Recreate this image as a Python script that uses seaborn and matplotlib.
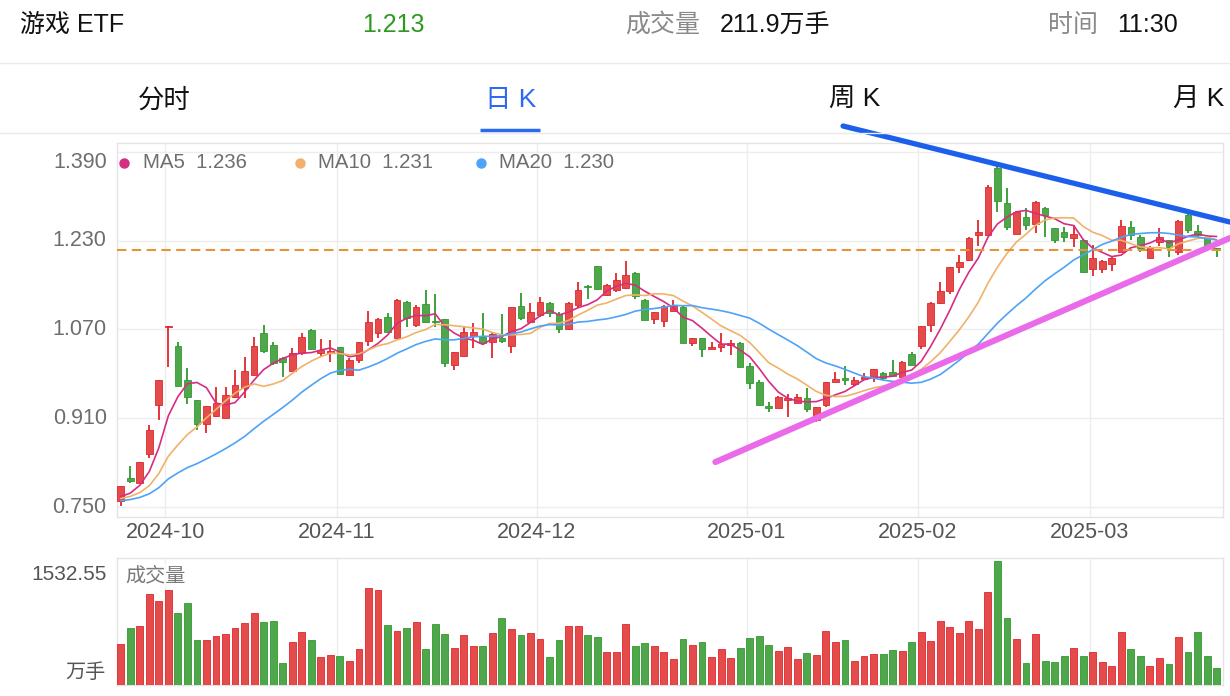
import numpy as np
import pandas as pd
import matplotlib
matplotlib.use("Agg")
import matplotlib.pyplot as plt
from matplotlib.lines import Line2D
import seaborn as sns

sns.set_theme(style="white")
plt.rcParams['font.family'] = ['Liberation Sans', 'Noto Sans CJK SC', 'DejaVu Sans']

# ---------------- data ----------------
opens = [0.761, 0.802, 0.794, 0.846, 0.934, 1.075, 1.040, 0.979, 0.943, 0.900,
         0.914, 0.910, 0.949, 0.964, 0.988, 1.064, 1.042, 1.019, 0.995, 1.028,
         1.069, 1.027, 1.027, 1.038, 0.988, 1.014, 1.050, 1.063, 1.092, 1.054,
         1.119, 1.078, 1.116, 1.085, 1.088, 1.006, 1.022, 1.058, 1.057, 1.048,
         1.055, 1.040, 1.112, 1.084, 1.096, 1.118, 1.098, 1.070, 1.114, 1.149,
         1.184, 1.132, 1.141, 1.144, 1.171, 1.123, 1.088, 1.085, 1.104, 1.111,
         1.045, 1.054, 1.034, 1.039, 1.042, 1.045, 1.004, 0.976, 0.932, 0.928,
         0.943, 0.937, 0.946, 0.907, 0.934, 0.976, 0.983, 0.971, 0.980, 0.984,
         0.992, 0.994, 0.985, 1.026, 1.040, 1.078, 1.117, 1.140, 1.182, 1.195,
         1.240, 1.240, 1.360, 1.298, 1.242, 1.272, 1.260, 1.288, 1.252, 1.245,
         1.234, 1.232, 1.178, 1.178, 1.188, 1.210, 1.255, 1.237, 1.198, 1.228,
         1.231, 1.210, 1.276, 1.248, 1.236, 1.216]
highs = [0.787, 0.823, 0.832, 0.898, 0.979, 1.076, 1.047, 1.000, 0.943, 0.932,
         0.967, 0.966, 0.996, 1.020, 1.057, 1.078, 1.048, 1.021, 1.036, 1.063,
         1.070, 1.052, 1.051, 1.039, 1.018, 1.048, 1.104, 1.090, 1.099, 1.124,
         1.122, 1.114, 1.141, 1.134, 1.088, 1.029, 1.075, 1.081, 1.100, 1.063,
         1.098, 1.111, 1.136, 1.117, 1.128, 1.119, 1.102, 1.119, 1.155, 1.150,
         1.185, 1.152, 1.171, 1.194, 1.173, 1.124, 1.102, 1.114, 1.123, 1.112,
         1.055, 1.055, 1.048, 1.064, 1.051, 1.048, 1.010, 0.979, 0.940, 0.950,
         0.954, 0.954, 0.964, 0.931, 0.976, 0.994, 1.004, 0.985, 0.991, 0.999,
         0.993, 1.015, 1.013, 1.030, 1.077, 1.119, 1.156, 1.183, 1.204, 1.236,
         1.268, 1.330, 1.372, 1.324, 1.283, 1.288, 1.302, 1.291, 1.253, 1.255,
         1.258, 1.233, 1.222, 1.195, 1.200, 1.267, 1.266, 1.240, 1.220, 1.252,
         1.232, 1.267, 1.285, 1.258, 1.240, 1.217]
lows = [0.751, 0.794, 0.794, 0.838, 0.907, 1.002, 0.968, 0.936, 0.889, 0.883,
        0.912, 0.910, 0.946, 0.946, 0.988, 1.027, 1.006, 0.985, 0.995, 1.024,
        1.033, 1.021, 1.012, 0.990, 0.987, 1.009, 1.040, 1.054, 1.065, 1.054,
        1.075, 1.075, 1.081, 1.075, 1.003, 0.996, 1.021, 1.036, 1.042, 1.018,
        1.046, 1.027, 1.087, 1.081, 1.093, 1.092, 1.064, 1.069, 1.108, 1.124,
        1.142, 1.131, 1.138, 1.142, 1.124, 1.087, 1.079, 1.074, 1.104, 1.045,
        1.040, 1.021, 1.034, 1.030, 1.024, 1.002, 0.962, 0.933, 0.922, 0.928,
        0.913, 0.937, 0.922, 0.904, 0.931, 0.976, 0.970, 0.968, 0.978, 0.976,
        0.978, 0.984, 0.984, 1.006, 1.034, 1.066, 1.116, 1.134, 1.172, 1.194,
        1.220, 1.238, 1.282, 1.250, 1.242, 1.249, 1.244, 1.237, 1.225, 1.228,
        1.218, 1.171, 1.166, 1.171, 1.175, 1.209, 1.231, 1.210, 1.198, 1.220,
        1.200, 1.204, 1.243, 1.237, 1.218, 1.201]
closes = [0.787, 0.796, 0.832, 0.889, 0.979, 1.076, 0.968, 0.949, 0.900, 0.932,
          0.937, 0.952, 0.970, 0.995, 1.040, 1.031, 1.010, 1.012, 1.028, 1.056,
          1.035, 1.033, 1.031, 0.990, 1.015, 1.048, 1.083, 1.088, 1.065, 1.123,
          1.090, 1.111, 1.084, 1.083, 1.010, 1.029, 1.066, 1.065, 1.045, 1.061,
          1.049, 1.111, 1.090, 1.102, 1.119, 1.099, 1.070, 1.117, 1.141, 1.146,
          1.142, 1.150, 1.159, 1.168, 1.130, 1.087, 1.102, 1.113, 1.113, 1.046,
          1.055, 1.034, 1.039, 1.044, 1.045, 1.002, 0.974, 0.933, 0.928, 0.949,
          0.946, 0.948, 0.926, 0.931, 0.976, 0.980, 0.978, 0.978, 0.984, 0.998,
          0.982, 0.986, 1.012, 1.006, 1.076, 1.118, 1.140, 1.182, 1.192, 1.234,
          1.246, 1.326, 1.302, 1.254, 1.282, 1.258, 1.300, 1.276, 1.232, 1.236,
          1.242, 1.174, 1.198, 1.194, 1.198, 1.256, 1.240, 1.216, 1.219, 1.237,
          1.218, 1.266, 1.249, 1.240, 1.219, 1.213]
volumes = [504, 705, 734, 1119, 1041, 1169, 890, 1017, 562, 554,
           603, 636, 701, 763, 890, 783, 795, 275, 537, 656,
           562, 340, 369, 353, 299, 451, 1205, 1177, 738, 668,
           701, 783, 439, 750, 627, 455, 623, 476, 488, 644,
           824, 693, 623, 644, 570, 349, 562, 734, 726, 615,
           590, 410, 410, 754, 480, 517, 488, 405, 322, 572,
           497, 530, 342, 443, 334, 455, 585, 601, 497, 422,
           472, 326, 401, 376, 664, 526, 551, 301, 363, 388,
           384, 438, 422, 526, 651, 547, 789, 722, 647, 789,
           689, 1153, 1532.55, 823, 564, 271, 635, 296, 280, 363,
           455, 355, 409, 280, 234, 651, 443, 363, 238, 330,
           263, 593, 405, 651, 363, 211.9]
# closes before the first visible candle (estimated from where the MA lines start)
prior_closes = [0.752, 0.755, 0.758, 0.760, 0.757, 0.754, 0.756, 0.759, 0.761, 0.758,
                0.760, 0.762, 0.764, 0.761, 0.763, 0.765, 0.762, 0.764, 0.766]

month_labels = ["2024-10", "2024-11", "2024-12", "2025-01", "2025-02", "2025-03"]
month_start_idx = [5, 23, 44, 66, 84, 102]
price_ticks = [0.750, 0.910, 1.070, 1.230, 1.390]
last_price = 1.213
ma_windows = [5, 10, 20]
ma_names = ["MA5", "MA10", "MA20"]
ma_legend_values = ["1.236", "1.231", "1.230"]
upper_trend_x = [75.8, 116.4]
upper_trend_y = [1.4365, 1.2635]
lower_trend_x = [62.4, 116.4]
lower_trend_y = [0.831, 1.2347]
vol_top_label = "1532.55"

# ---------------- styles ----------------
RED = "#E44B4B"
RED_EDGE = "#E0262B"
GREEN = "#4FA64B"
GREEN_EDGE = "#2F9A2F"
MA_COLORS = ["#D62D82", "#F0B26A", "#4DA3F7"]
GRID = "#EDEDED"
BLUE = "#2A6AF0"

W, H = 1230, 696
fig = plt.figure(figsize=(W / 100, H / 100), dpi=100)
fig.patch.set_facecolor("white")


def rect(l, t, r, b):
    return [l / W, 1 - b / H, (r - l) / W, (b - t) / H]


ax = fig.add_axes(rect(116.7, 143, 1223, 517))
axv = fig.add_axes(rect(116.7, 558, 1223, 685))

n = len(closes)
df = pd.DataFrame({"i": np.arange(n), "o": opens, "h": highs, "l": lows,
                   "c": closes, "v": volumes})
df["dir"] = np.where(df["c"] >= df["o"], "up", "down")
up = df["dir"] == "up"

allc = pd.Series(prior_closes + closes)
for w, name in zip(ma_windows, ma_names):
    df[name] = allc.rolling(w).mean().values[len(prior_closes):]

XMIN, XMAX = -0.42, 115.67
for a in (ax, axv):
    a.set_xlim(XMIN, XMAX)
    a.set_facecolor("white")
    for s in a.spines.values():
        s.set_color("#E4E4E4")
        s.set_linewidth(1)
    for m in month_start_idx:
        a.axvline(m - 0.33, color=GRID, lw=1, zorder=0)

ax.set_ylim(0.732, 1.4059)
for v in price_ticks:
    ax.axhline(v, color=GRID, lw=1, zorder=0)

# candles
ax.vlines(df["i"], df["l"], df["h"], colors=np.where(up, RED_EDGE, GREEN_EDGE),
          lw=1.3, zorder=3)
body_h = np.maximum((df["c"] - df["o"]).abs(), 0.0016)
ax.bar(df["i"], body_h, bottom=np.minimum(df["o"], df["c"]), width=0.7,
       color=np.where(up, RED, GREEN), edgecolor=np.where(up, RED_EDGE, GREEN_EDGE),
       linewidth=0.6, zorder=4)

# moving averages
for name, col in zip(ma_names, MA_COLORS):
    sns.lineplot(data=df, x="i", y=name, ax=ax, color=col, lw=1.2, zorder=5)

# current price line
ax.axhline(last_price, color="#E8923A", lw=1.5, ls=(0, (4.5, 2.6)), zorder=6)

# trend lines drawn on the chart
ax.plot(upper_trend_x, upper_trend_y, color="#1B5FEA", lw=3.8, clip_on=False,
        solid_capstyle="round", zorder=10)
ax.plot(lower_trend_x, lower_trend_y, color="#EA6BEA", lw=4.4, clip_on=False,
        solid_capstyle="round", zorder=10)

ax.set_xticks([])
ax.set_yticks([])
ax.set_xlabel("")
ax.set_ylabel("")

# y labels
for v in price_ticks:
    off = -11 if v == price_ticks[-1] else 0
    ax.annotate(f"{v:.3f}", xy=(0, v), xycoords=("axes fraction", "data"),
                xytext=(-10 * 0.72, off * 0.72), textcoords="offset points",
                ha="right", va="center", fontsize=15.5, color="#6E6E6E")
# x labels
for m, lab in zip(month_start_idx, month_labels):
    ax.annotate(lab, xy=(m - 0.33, 0), xycoords=("data", "axes fraction"),
                xytext=(0, -16 * 0.72), textcoords="offset points",
                ha="center", va="center", fontsize=15.5, color="#555555")

# MA legend
leg_dot_x = [124, 300, 481]
leg_txt_x = [143, 318, 499]
for dx, tx, name, val, col in zip(leg_dot_x, leg_txt_x, ma_names, ma_legend_values, MA_COLORS):
    fig.add_artist(Line2D([dx / W], [1 - 163 / H], marker="o", markersize=6.5,
                          color=col, linestyle="none"))
    fig.text(tx / W, 1 - 163 / H, f"{name}  {val}", fontsize=14.7, color="#6E6E6E",
             ha="left", va="center")

# volume bars
sns.barplot(data=df, x="i", y="v", hue="dir", palette={"up": RED, "down": GREEN},
            native_scale=True, dodge=False, width=0.72, saturation=1, legend=False,
            ax=axv, zorder=3)
for p in axv.patches:
    fc = p.get_facecolor()
    p.set_edgecolor(RED_EDGE if fc[0] > 0.6 else GREEN_EDGE)
    p.set_linewidth(0.6)
axv.set_xlim(XMIN, XMAX)
axv.set_ylim(0, 1570)
axv.set_xticks([])
axv.set_yticks([])
axv.set_xlabel("")
axv.set_ylabel("")
axv.text(0.0075, 0.86, "成交量", transform=axv.transAxes, fontsize=14.5, color="#7A7A7A",
         ha="left", va="center", zorder=8,
         bbox=dict(boxstyle="square,pad=0.1", fc="white", ec="none", alpha=0.65))
axv.annotate(vol_top_label, xy=(0, 1), xycoords="axes fraction",
             xytext=(-10 * 0.72, -17 * 0.72), textcoords="offset points",
             ha="right", va="center", fontsize=15, color="#555555")
axv.annotate("万手", xy=(0, 0), xycoords="axes fraction",
             xytext=(-11 * 0.72, 12 * 0.72), textcoords="offset points",
             ha="right", va="center", fontsize=14.5, color="#555555")

# header
hy = 1 - 25 / H
fig.text(20 / W, hy, "游戏 ETF", fontsize=18, color="#111111", ha="left", va="center")
fig.text(393 / W, hy, "1.213", fontsize=18, color="#2E9A22", ha="center", va="center")
fig.text(625 / W, hy, "成交量", fontsize=18, color="#8A8A8A", ha="left", va="center")
fig.text(720 / W, hy, "211.9万手", fontsize=18, color="#111111", ha="left", va="center")
fig.text(1048 / W, hy, "时间", fontsize=18, color="#8A8A8A", ha="left", va="center")
fig.text(1117 / W, hy, "11:30", fontsize=18, color="#111111", ha="left", va="center")
fig.add_artist(Line2D([0, 1], [1 - 63 / H] * 2, color="#EAEAEA", lw=1))

# tabs
ty = 1 - 100 / H
for cx, lab, col in [(164, "分时", "#111111"), (511, "日 K", BLUE),
                     (855, "周 K", "#111111"), (1199, "月 K", "#111111")]:
    fig.text(cx / W, ty, lab, fontsize=19, color=col, ha="center", va="center")
fig.add_artist(Line2D([480 / W, 540 / W], [1 - 130 / H] * 2, color=BLUE, lw=2.5,
                      solid_capstyle="butt"))
fig.add_artist(Line2D([0, 1], [1 - 132.5 / H] * 2, color="#EAEAEA", lw=1))

fig.savefig("out.png", dpi=100, facecolor="white")
